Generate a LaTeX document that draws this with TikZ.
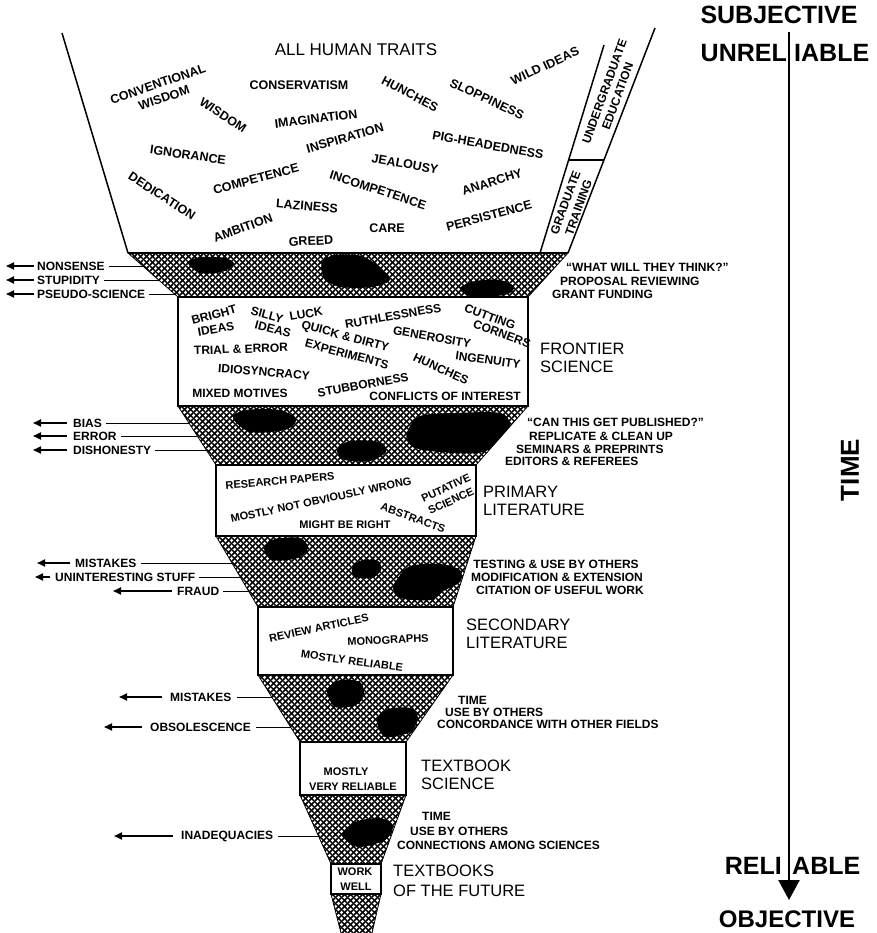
\documentclass[tikz,border=0pt]{standalone}
\usepackage{fontspec}
\setmainfont{Liberation Sans}
\usetikzlibrary{patterns.meta,arrows.meta}
\tikzdeclarepattern{
  name=mesh, type=uncolored,
  bounding box={(0pt,0pt) and (5.5pt,5.5pt)},
  tile size={(5.5pt,5.5pt)},
  code={
    \draw[line width=1.6pt] (-1pt,-1pt) -- (6.5pt,6.5pt);
    \draw[line width=1.6pt] (-1pt,6.5pt) -- (6.5pt,-1pt);
  }
}
\begin{document}
\begin{tikzpicture}[x=1pt,y=-1pt,
  trait/.style={font=\bfseries\fontsize{12.5}{12}\selectfont, inner sep=0pt, align=center},
  ftrait/.style={font=\bfseries\fontsize{12}{12}\selectfont, inner sep=0pt, align=center},
  ptrait/.style={font=\bfseries\fontsize{11}{11}\selectfont, inner sep=0pt, align=center},
  strip/.style={font=\bfseries\fontsize{12}{14}\selectfont, inner sep=0pt, align=center, rotate=70},
  lbl/.style={font=\bfseries\fontsize{12}{12}\selectfont, inner sep=0pt},
  sect/.style={font=\fontsize{16.5}{17.5}\selectfont, inner sep=0pt, anchor=west, align=left},
  axislbl/.style={font=\bfseries\fontsize{25}{27}\selectfont, inner sep=0pt},
  hatch/.style={pattern={mesh}, pattern color=black, draw=black, line width=0.8pt},
  blob/.style={fill=black},
  edge/.style={line width=1.5pt},
  boxnode/.style={draw=black, line width=1.3pt, fill=white, inner sep=0pt},
  arr/.style={line width=1.8pt, -{Triangle[length=8pt,width=7pt]}},
  lead/.style={line width=1pt}
]
\path[use as bounding box, fill=white] (0,0) rectangle (876,933);

% ---------- top trapezoid ----------
\draw[edge] (62,33) -- (128,253);
\draw[edge] (540,253) -- (604,45);
\draw[edge] (568,253) -- (655,28);
\draw[edge] (568,160) -- (604,160);

\node[font=\fontsize{17}{18}\selectfont, inner sep=0pt] (aht) at (356,50) {ALL HUMAN TRAITS};
\node[trait, rotate=19] (t1) at (158,84) {CONVENTIONAL};
\node[trait, rotate=19] (t2) at (164,98) {WISDOM};
\node[trait] (t3) at (299,85) {CONSERVATISM};
\node[trait, rotate=-33] (t4) at (223,115) {WISDOM};
\node[trait, rotate=7] (t5) at (316,119) {IMAGINATION};
\node[trait, rotate=16] (t6) at (345,138) {INSPIRATION};
\node[trait, rotate=-8] (t7) at (188,155) {IGNORANCE};
\node[trait, rotate=15] (t8) at (256,179) {COMPETENCE};
\node[trait, rotate=-33] (t9) at (162,196) {DEDICATION};
\node[trait, rotate=-5] (t10) at (307,206) {LAZINESS};
\node[trait, rotate=20] (t11) at (243,228) {AMBITION};
\node[trait, rotate=3] (t12) at (311,241) {GREED};
\node[trait, rotate=-28] (t13) at (410,94) {HUNCHES};
\node[trait, rotate=-25] (t14) at (487,99) {SLOPPINESS};
\node[trait, rotate=25] (t15) at (545,66) {WILD IDEAS};
\node[trait, rotate=-10] (t16) at (488,145) {PIG-HEADEDNESS};
\node[trait, rotate=-10] (t17) at (405,164) {JEALOUSY};
\node[trait, rotate=-18] (t18) at (378,190) {INCOMPETENCE};
\node[trait, rotate=18] (t19) at (492,182) {ANARCHY};
\node[trait, rotate=15] (t20) at (489,216) {PERSISTENCE};
\node[trait] (t21) at (387,228) {CARE};
\node[strip] (ug) at (611,94) {UNDERGRADUATE\\EDUCATION};
\node[strip] (gt) at (572,205) {GRADUATE\\TRAINING};

% ---------- band 1 ----------
\path[hatch] (128,253) -- (568,253) -- (528,297) -- (178,297) -- cycle;
\draw[edge] (128,253) -- (568,253);
\begin{scope}
\clip (128,253) -- (568,253) -- (528,297) -- (178,297) -- cycle;
\fill[blob] plot[smooth cycle] coordinates {(188,263) (200,257) (225,258) (234,264) (222,272) (200,273)};
\fill[blob] plot[smooth cycle] coordinates {(322,262) (335,255) (362,256) (380,268) (390,280) (372,287) (340,287) (324,278)};
\fill[blob] plot[smooth cycle] coordinates {(460,288) (475,281) (500,280) (514,287) (505,295) (470,296)};
\end{scope}

% ---------- bands 2-6 ----------
\path[hatch] (178,406) -- (528,406) -- (476,465) -- (216,465) -- cycle;
\begin{scope}
\clip (178,406) -- (528,406) -- (476,465) -- (216,465) -- cycle;
\fill[blob] plot[smooth cycle] coordinates {(233,418) (245,410) (280,410) (296,420) (285,430) (250,432)};
\fill[blob] plot[smooth cycle] coordinates {(408,430) (420,416) (455,413) (500,413) (510,425) (500,443) (478,453) (440,452) (415,448) (407,440)};
\fill[blob] plot[smooth cycle] coordinates {(337,450) (350,441) (380,442) (386,452) (370,461) (345,460)};
\end{scope}
\path[hatch] (216,536) -- (476,536) -- (453,607) -- (258,607) -- cycle;
\begin{scope}
\clip (216,536) -- (476,536) -- (453,607) -- (258,607) -- cycle;
\fill[blob] plot[smooth cycle] coordinates {(264,548) (275,539) (300,538) (308,548) (298,558) (272,560)};
\fill[blob] plot[smooth cycle] coordinates {(352,568) (362,560) (378,561) (381,570) (372,578) (355,577)};
\fill[blob] plot[smooth cycle] coordinates {(398,578) (410,566) (440,564) (460,570) (460,582) (445,590) (430,600) (400,598) (393,588)};
\end{scope}
\path[hatch] (258,675) -- (453,675) -- (406,742) -- (300,742) -- cycle;
\begin{scope}
\clip (258,675) -- (453,675) -- (406,742) -- (300,742) -- cycle;
\fill[blob] plot[smooth cycle] coordinates {(327,690) (340,680) (360,682) (364,695) (356,705) (335,707)};
\fill[blob] plot[smooth cycle] coordinates {(377,720) (388,709) (410,708) (418,718) (410,732) (385,737)};
\end{scope}
\path[hatch] (300,795) -- (406,795) -- (381,864) -- (331,864) -- cycle;
\fill[blob] plot[smooth cycle] coordinates {(342,835) (355,822) (380,818) (393,826) (385,840) (358,847)};
\path[pattern={mesh}, pattern color=black] (331,894) -- (381,894) -- (372,933) -- (341,933) -- cycle;
\draw[line width=0.8pt] (331,894) -- (341,933) (381,894) -- (372,933);

% ---------- boxes ----------
\node[boxnode, minimum width=350pt, minimum height=109pt] (fs) at (353,351.5) {};
\node[boxnode, minimum width=260pt, minimum height=71pt] (pl) at (346,500.5) {};
\node[boxnode, minimum width=195pt, minimum height=68pt] (sl) at (355.5,641) {};
\node[boxnode, minimum width=106pt, minimum height=53pt] (ts) at (353,768.5) {};
\node[boxnode, minimum width=50pt, minimum height=30pt] (tf) at (356,879) {};

% ---------- frontier science texts ----------
\node[ftrait, rotate=15] (f1) at (214,315) {BRIGHT};
\node[ftrait, rotate=10] (f2) at (216,329) {IDEAS};
\node[ftrait, rotate=-15] (f3) at (267,315) {SILLY};
\node[ftrait, rotate=-15] (f4) at (273,329) {IDEAS};
\node[ftrait, rotate=10] (f5) at (306,314) {LUCK};
\node[ftrait, rotate=10] (f6) at (393,316) {RUTHLESSNESS};
\node[ftrait, rotate=-20] (f7) at (490,317) {CUTTING};
\node[ftrait, rotate=-20] (f8) at (502,334) {CORNERS};
\node[ftrait, rotate=-15] (f9) at (345,337) {QUICK \& DIRTY};
\node[ftrait, rotate=-15] (f10) at (347,354) {EXPERIMENTS};
\node[ftrait, rotate=-10] (f11) at (432,337) {GENEROSITY};
\node[ftrait, rotate=2] (f12) at (241,349) {TRIAL \& ERROR};
\node[ftrait, rotate=-8] (f13) at (488,360) {INGENUITY};
\node[ftrait, rotate=-25] (f14) at (441,369) {HUNCHES};
\node[ftrait, rotate=-5] (f15) at (264,372) {IDIOSYNCRACY};
\node[ftrait, rotate=10] (f16) at (363,385) {STUBBORNESS};
\node[ftrait] (f17) at (240,393) {MIXED MOTIVES};
\node[ftrait] (f18) at (445,396) {CONFLICTS OF INTEREST};

% ---------- primary literature texts ----------
\node[ptrait, rotate=5] (p1) at (280,481) {RESEARCH PAPERS};
\node[ptrait, rotate=12] (p2) at (321,500) {MOSTLY NOT OBVIOUSLY WRONG};
\node[ptrait, rotate=25] (p3) at (446,488) {PUTATIVE};
\node[ptrait, rotate=25] (p4) at (451,501) {SCIENCE};
\node[ptrait, rotate=-20] (p5) at (413,518) {ABSTRACTS};
\node[ptrait] (p6) at (345,525) {MIGHT BE RIGHT};

% ---------- secondary literature texts ----------
\node[ptrait, rotate=12] (s1) at (319,628) {REVIEW ARTICLES};
\node[ptrait, rotate=3] (s2) at (388,640) {MONOGRAPHS};
\node[ptrait, rotate=-8] (s3) at (352,661) {MOSTLY RELIABLE};

% ---------- textbook texts ----------
\node[ptrait] (x1) at (346,772) {MOSTLY};
\node[ptrait] (x2) at (353,787) {VERY RELIABLE};
\node[ptrait] (w1) at (355,872) {WORK};
\node[ptrait] (w2) at (356,887) {WELL};

% ---------- section labels ----------
\node[sect] (lfs) at (540,358) {FRONTIER\\SCIENCE};
\node[sect] (lpl) at (483,501) {PRIMARY\\LITERATURE};
\node[sect] (lsl) at (466,634) {SECONDARY\\LITERATURE};
\node[sect] (lts) at (421,775) {TEXTBOOK\\SCIENCE};
\node[sect, font=\fontsize{16.5}{20}\selectfont] (ltf) at (393,881) {TEXTBOOKS\\OF THE FUTURE};

% ---------- left labels ----------
\node[lbl, anchor=west] (n1) at (37,266) {NONSENSE};
\node[lbl, anchor=west] (n2) at (37,280) {STUPIDITY};
\node[lbl, anchor=west] (n3) at (37,294) {PSEUDO-SCIENCE};
\coordinate (n1a) at (6,266); \coordinate (n2a) at (6,280); \coordinate (n3a) at (6,294);
\coordinate (n1e) at (143,266); \coordinate (n2e) at (159,280); \coordinate (n3e) at (175,294);
\foreach \n in {n1,n2,n3}{
  \draw[arr] ([xshift=-3pt]\n.west) -- (\n a);
  \draw[lead] ([xshift=4pt]\n.east) -- (\n e);
}
\node[lbl, anchor=west] (b1) at (73,423) {BIAS};
\node[lbl, anchor=west] (b2) at (73,436) {ERROR};
\node[lbl, anchor=west] (b3) at (73,450) {DISHONESTY};
\coordinate (b1a) at (33,423); \coordinate (b2a) at (33,436); \coordinate (b3a) at (33,450);
\coordinate (b1e) at (189,423); \coordinate (b2e) at (197,436); \coordinate (b3e) at (207,450);
\foreach \n in {b1,b2,b3}{
  \draw[arr] ([xshift=-6pt]\n.west) -- (\n a);
  \draw[lead] ([xshift=4pt]\n.east) -- (\n e);
}
\node[lbl, anchor=west] (m1) at (75,563) {MISTAKES};
\node[lbl, anchor=west] (m2) at (55,577) {UNINTERESTING STUFF};
\node[lbl, anchor=west] (m3) at (177,591) {FRAUD};
\coordinate (m1a) at (37,563); \coordinate (m2a) at (35,577); \coordinate (m3a) at (113,591);
\coordinate (m1e) at (232,563); \coordinate (m2e) at (240,577); \coordinate (m3e) at (249,591);
\foreach \n in {m1,m2,m3}{
  \draw[arr] ([xshift=-5pt]\n.west) -- (\n a);
  \draw[lead] ([xshift=4pt]\n.east) -- (\n e);
}
\node[lbl, anchor=west] (o1) at (170,697) {MISTAKES};
\node[lbl, anchor=west] (o2) at (150,727) {OBSOLESCENCE};
\node[lbl, anchor=west] (o3) at (181,836) {INADEQUACIES};
\coordinate (o1a) at (119,697); \coordinate (o2a) at (104,727); \coordinate (o3a) at (114,836);
\coordinate (o1e) at (272,697); \coordinate (o2e) at (291,727); \coordinate (o3e) at (318,836);
\foreach \n in {o1,o2,o3}{
  \draw[arr] ([xshift=-8pt]\n.west) -- (\n a);
  \draw[lead] ([xshift=5pt]\n.east) -- (\n e);
}

% ---------- right labels ----------
\node[lbl, anchor=west] (r1) at (566,267) {``WHAT WILL THEY THINK?''};
\node[lbl, anchor=west] (r2) at (560,281) {PROPOSAL REVIEWING};
\node[lbl, anchor=west] (r3) at (552,294) {GRANT FUNDING};
\node[lbl, anchor=west] (r4) at (527,422) {``CAN THIS GET PUBLISHED?''};
\node[lbl, anchor=west] (r5) at (529,436) {REPLICATE \& CLEAN UP};
\node[lbl, anchor=west] (r6) at (516,449) {SEMINARS \& PREPRINTS};
\node[lbl, anchor=west] (r7) at (505,461) {EDITORS \& REFEREES};
\node[lbl] (r8) at (556,564) {TESTING \& USE BY OTHERS};
\node[lbl] (r9) at (557,577) {MODIFICATION \& EXTENSION};
\node[lbl] (r10) at (560,590) {CITATION OF USEFUL WORK};
\node[lbl, anchor=west] (r11) at (458,700) {TIME};
\node[lbl, anchor=west] (r12) at (445,712) {USE BY OTHERS};
\node[lbl, anchor=west] (r13) at (437,724) {CONCORDANCE WITH OTHER FIELDS};
\node[lbl, anchor=west] (r14) at (422,816) {TIME};
\node[lbl, anchor=west] (r15) at (410,831) {USE BY OTHERS};
\node[lbl, anchor=west] (r16) at (397,845) {CONNECTIONS AMONG SCIENCES};

% ---------- time axis ----------
\coordinate (axtop) at (789,32);
\coordinate (axbot) at (789,900);
\draw[line width=2.2pt, -{Triangle[length=20pt,width=21pt]}] (axtop) -- (axbot);
\node[axislbl] (subj) at (779,15) {SUBJECTIVE};
\node[axislbl, anchor=east] (unr1) at (787,53) {UNREL};
\node[axislbl, anchor=west] (unr2) at (794,53) {IABLE};
\node[axislbl, anchor=east] (rel1) at (782,866) {RELI};
\node[axislbl, anchor=west] (rel2) at (792,866) {ABLE};
\node[axislbl, font=\bfseries\fontsize{24}{26}\selectfont, anchor=base] (obj) at (787,927) {OBJECTIVE};
\node[axislbl, rotate=90, font=\bfseries\fontsize{26}{28}\selectfont] (time) at (850,470) {TIME};
\end{tikzpicture}
\end{document}
